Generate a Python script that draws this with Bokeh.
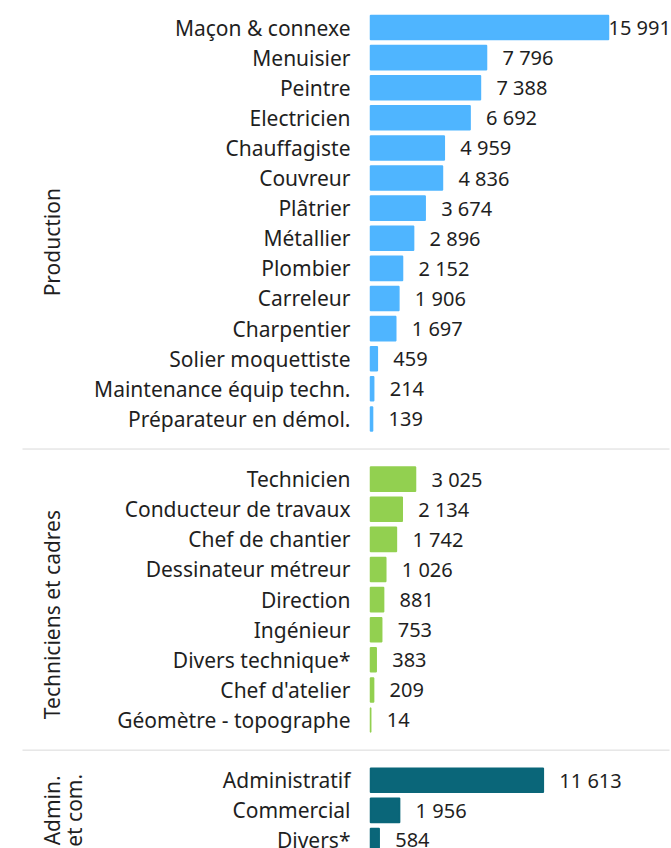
import math
from bokeh.plotting import figure
from bokeh.models import Range1d, ColumnDataSource
from bokeh.core.properties import value
from bokeh.embed import file_html
from bokeh.resources import INLINE

# ---- data ----
groups = ["Production", "Techniciens et cadres", "Admin.\net com."]

prod_labels = ["Maçon & connexe", "Menuisier", "Peintre", "Electricien", "Chauffagiste",
               "Couvreur", "Plâtrier", "Métallier", "Plombier", "Carreleur", "Charpentier",
               "Solier moquettiste", "Maintenance équip techn.", "Préparateur en démol."]
prod_values = [15991, 7796, 7388, 6692, 4959, 4836, 3674, 2896, 2152, 1906, 1697, 459, 214, 139]

tech_labels = ["Technicien", "Conducteur de travaux", "Chef de chantier", "Dessinateur métreur",
               "Direction", "Ingénieur", "Divers technique*", "Chef d'atelier",
               "Géomètre - topographe"]
tech_values = [3025, 2134, 1742, 1026, 881, 753, 383, 209, 14]

admin_labels = ["Administratif", "Commercial", "Divers*"]
admin_values = [11613, 1956, 584]

colors = ["#4FB5FF", "#92D050", "#0A6679"]

# ---- layout ----
W, H = 671, 848
FONT = "Noto Sans"
FS = "21px"
FSV = "20px"
TXT = "#1f1f1f"

pitch = 30.11
top_px = 27
y_top = -top_px / pitch
y_bot = (H - top_px) / pitch

zero_px = 370
upp = 15991 / 238.0
x_start = -zero_px * upp
x_end = (W - zero_px) * upp

p = figure(width=W, height=H, x_range=Range1d(x_start, x_end),
           y_range=Range1d(y_bot, y_top), output_backend="svg",
           toolbar_location=None, min_border=0)
p.axis.visible = False
p.grid.visible = False
p.outline_line_color = None
p.background_fill_color = "white"
p.border_fill_color = "white"

all_vals = prod_values + tech_values + admin_values
maxv = max(all_vals)
all_sets = [(prod_labels, prod_values), (tech_labels, tech_values), (admin_labels, admin_values)]
idx = 0
sep_pos = []
grp_centers = []
for gi, (labs, vals) in enumerate(all_sets):
    ys = list(range(idx, idx + len(labs)))
    src = ColumnDataSource(dict(
        y=ys, v=vals, lab=labs,
        txt=[f"{v:,}".replace(",", " ") for v in vals],
        xo=[0 if v == maxv else 16 for v in vals],
    ))
    p.hbar(y="y", left=0, right="v", height=0.8, source=src,
           fill_color=colors[gi], line_color=colors[gi], line_width=1.5)
    p.text(x=0, y="y", text="lab", source=src, x_offset=-20,
           text_align="right", text_baseline="middle",
           text_font=value(FONT), text_font_size=FS, text_color=TXT)
    p.text(x="v", y="y", text="txt", source=src, x_offset="xo",
           text_align="left", text_baseline="middle",
           text_font=value(FONT), text_font_size=FSV, text_color=TXT)
    grp_centers.append((ys[0] + ys[-1]) / 2)
    idx += len(labs)
    if gi < len(all_sets) - 1:
        sep_pos.append(idx)
        idx += 1

# separators
p.segment(x0=x_start + 22 * upp, x1=x_end - 2 * upp, y0=sep_pos, y1=sep_pos,
          line_color="#d9d9d9", line_width=1)

# group labels (rotated)
gsrc = ColumnDataSource(dict(x=[x_start] * 3, y=grp_centers, t=groups,
                             yo=[19, 15, 0]))
p.text(x="x", y="y", text="t", source=gsrc, x_offset=37, y_offset="yo",
       angle=math.pi / 2, text_align="center", text_baseline="top",
       text_line_height=0.8,
       text_font=value(FONT), text_font_size=FS, text_color=TXT)

open("out.html", "w").write(file_html(p, INLINE))
